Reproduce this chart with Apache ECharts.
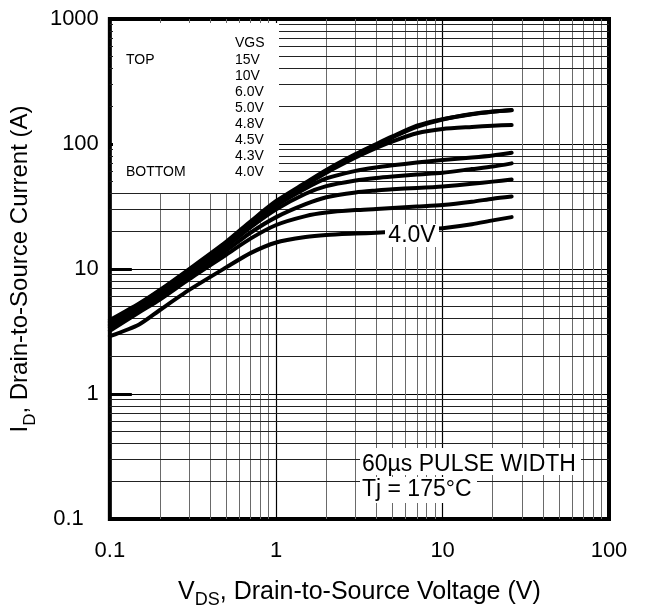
<!DOCTYPE html>
<html>
<head>
<meta charset="utf-8">
<script src="https://cdn.jsdelivr.net/npm/echarts@6/dist/echarts.min.js"></script>
<style>
html,body{margin:0;padding:0;background:#fff;}
#chart{width:645px;height:614px;}
</style>
</head>
<body>
<div id="chart"></div>
<script>
// ---- data ----
var vds  = [0.1, 0.15, 0.2, 0.3, 0.5, 0.7, 1, 1.5, 2, 3, 4, 5, 7, 10, 15, 20, 26];
var id15 = [3.9, 5.3, 6.8, 10, 16.5, 24, 35, 49, 62, 83, 100, 115, 140, 158, 174, 182, 187];
var id10 = [3.8, 5.2, 6.7, 9.8, 16.2, 23.5, 34, 48, 61, 81, 98, 113, 137, 157, 173, 181, 186];
var id60 = [3.7, 5.1, 6.6, 9.6, 16, 23, 33, 47, 59, 78, 93, 105, 122, 132, 137, 140, 142];
var id50 = [3.6, 5.0, 6.4, 9.4, 15.5, 22, 32, 44, 53, 61, 65, 67.5, 71, 74.5, 78, 81, 85];
var id48 = [3.5, 4.9, 6.2, 9.1, 15, 21.5, 30, 40, 46, 51, 53.5, 55, 57, 59, 63, 66, 70];
var id45 = [3.4, 4.7, 6.0, 8.8, 14, 19.5, 26, 33, 37.5, 41, 42.5, 43.5, 44.5, 45.8, 48, 50, 52];
var id43 = [3.2, 4.5, 5.7, 8.3, 13, 17.5, 22.5, 26.5, 28.3, 29.6, 30.2, 30.8, 31.6, 32.5, 34.5, 36.5, 38];
var id40 = [2.9, 3.6, 4.7, 6.8, 10.3, 13.4, 16.3, 18, 18.7, 19.2, 19.5, 19.8, 20.4, 21.2, 22.8, 24.5, 26];

var seriesNames = ['15V', '10V', '6.0V', '5.0V', '4.8V', '4.5V', '4.3V', '4.0V'];
var seriesData = [id15, id10, id60, id50, id48, id45, id43, id40];

var xTickLabels = ['0.1', '1', '10', '100'];
var yTickLabels = ['0.1', '1', '10', '100', '1000'];
var xMinor = [0.2,0.3,0.4,0.5,0.6,0.7,0.8,0.9, 2,3,4,5,6,7,8,9, 20,30,40,50,60,70,80,90];
var yMinor = [0.2,0.3,0.4,0.5,0.6,0.7,0.8,0.9, 2,3,4,5,6,7,8,9, 20,30,40,50,60,70,80,90, 200,300,400,500,600,700,800,900];

var legendTitle = 'VGS';
var legendTop = 'TOP';
var legendBottom = 'BOTTOM';
var curveLabel = '4.0V';
var note1 = '60\u00b5s PULSE WIDTH';
var note2 = 'Tj = 175\u00b0C';

// ---- chart ----
var FONT = '"Liberation Sans", Arial, Helvetica, sans-serif';
var chart = echarts.init(document.getElementById('chart'), null, {renderer: 'canvas'});

var series = [];
seriesData.forEach(function (arr, i) {
  series.push({
    name: seriesNames[i],
    type: 'line',
    z: 5,
    smooth: 0.25,
    showSymbol: false,
    symbol: 'none',
    lineStyle: {color: '#000', width: 4, cap: 'round', join: 'round'},
    data: vds.map(function (v, k) { return [v, arr[k]]; })
  });
});
// minor grid lines (through the axes' scales)
series.push({
  type: 'line', z: 2, data: [[1, 1]], showSymbol: false, symbol: 'none',
  lineStyle: {opacity: 0}, silent: true,
  markLine: {
    silent: true, symbol: 'none', label: {show: false}, animation: false,
    lineStyle: {color: '#6a6a6a', width: 1, type: 'solid'},
    emphasis: {disabled: true},
    data: xMinor.map(function (v) { return {xAxis: v}; })
  }
});
series.push({
  type: 'line', z: 2, data: [[1, 1]], showSymbol: false, symbol: 'none',
  lineStyle: {opacity: 0}, silent: true,
  markLine: {
    silent: true, symbol: 'none', label: {show: false}, animation: false,
    lineStyle: {color: '#222', width: 1, type: 'solid'},
    emphasis: {disabled: true},
    data: yMinor.map(function (v) { return {yAxis: v}; })
  }
});

var graphics = [
  {type: 'rect', z: 100, shape: {x: 113, y: 23, width: 166, height: 170}, style: {fill: '#fff'}},
  {type: 'text', z: 101, x: 126, y: 60, style: {text: legendTop, fontSize: 14, fontFamily: FONT, fill: '#000', verticalAlign: 'middle'}},
  {type: 'text', z: 101, x: 126, y: 172, style: {text: legendBottom, fontSize: 14, fontFamily: FONT, fill: '#000', verticalAlign: 'middle'}},
  {type: 'text', z: 101, x: 235, y: 43, style: {text: legendTitle, fontSize: 14, fontFamily: FONT, fill: '#000', verticalAlign: 'middle'}},
  {type: 'rect', z: 100, shape: {x: 360, y: 448, width: 221, height: 27}, style: {fill: '#fff'}},
  {type: 'rect', z: 100, shape: {x: 360, y: 477, width: 117, height: 26}, style: {fill: '#fff'}},
  {type: 'text', z: 101, x: 362, y: 464.5, style: {text: note1, fontSize: 23, fontFamily: FONT, fill: '#000', verticalAlign: 'middle'}},
  {type: 'text', z: 101, x: 362, y: 490, style: {text: note2, fontSize: 23, fontFamily: FONT, fill: '#000', verticalAlign: 'middle'}},
  {type: 'rect', z: 100, shape: {x: 385, y: 224, width: 54, height: 23}, style: {fill: '#fff'}},
  {type: 'text', z: 101, x: 412, y: 236, style: {text: curveLabel, fontSize: 23, fontFamily: FONT, fill: '#000', align: 'center', verticalAlign: 'middle'}}
];
seriesNames.forEach(function (n, i) {
  graphics.push({type: 'text', z: 101, x: 235, y: 60 + i * 16.0, style: {text: n, fontSize: 14, fontFamily: FONT, fill: '#000', verticalAlign: 'middle'}});
});

function decadeIndex(v, base) { return Math.round(Math.log10(v) - base); }

var option = {
  animation: false,
  backgroundColor: '#fff',
  textStyle: {fontFamily: FONT, color: '#000'},
  grid: {left: 108, right: 36, top: 19, bottom: 94, show: true, borderColor: '#000', borderWidth: 4, backgroundColor: 'transparent'},
  xAxis: {
    type: 'log', logBase: 10, min: 0.1, max: 100,
    axisLine: {show: false},
    axisTick: {show: false},
    splitLine: {show: true, lineStyle: {color: '#000', width: 1.2}},
    axisLabel: {
      show: true, margin: 21, fontSize: 22, color: '#000', fontFamily: FONT,
      showMinLabel: true, showMaxLabel: true,
      formatter: function (v) { return xTickLabels[decadeIndex(v, -1)]; }
    },
    name: '{m|V}{s|DS}{m|, Drain-to-Source Voltage (V)}',
    nameLocation: 'middle', nameGap: 56,
    nameTextStyle: {
      color: '#000', fontFamily: FONT, fontSize: 25,
      rich: {
        m: {fontSize: 25, lineHeight: 34, verticalAlign: 'middle', fontFamily: FONT, color: '#000'},
        s: {fontSize: 18, lineHeight: 34, verticalAlign: 'bottom', fontFamily: FONT, color: '#000'}
      }
    }
  },
  yAxis: {
    type: 'log', logBase: 10, min: 0.1, max: 1000,
    axisLine: {show: false},
    axisTick: {show: true, inside: true, length: 22, lineStyle: {color: '#000', width: 3}},
    splitLine: {show: true, lineStyle: {color: '#000', width: 1.2}},
    axisLabel: {
      show: true, margin: 11, fontSize: 22, color: '#000', fontFamily: FONT,
      showMinLabel: true, showMaxLabel: true,
      formatter: function (v) {
        var i = decadeIndex(v, -1);
        return i === 0 ? '{p|' + yTickLabels[i] + '}' : yTickLabels[i];
      },
      rich: {p: {fontSize: 22, fontFamily: FONT, color: '#000', padding: [0, 15, 0, 0]}}
    },
    name: '{m|I}{s|D}{m|, Drain-to-Source Current (A)}',
    nameLocation: 'middle', nameGap: 64,
    nameTextStyle: {
      color: '#000', fontFamily: FONT, fontSize: 24,
      rich: {
        m: {fontSize: 24, lineHeight: 38, verticalAlign: 'middle', fontFamily: FONT, color: '#000'},
        s: {fontSize: 17, lineHeight: 38, verticalAlign: 'bottom', fontFamily: FONT, color: '#000'}
      }
    }
  },
  series: series,
  graphic: graphics
};
chart.setOption(option);
</script>
</body>
</html>
